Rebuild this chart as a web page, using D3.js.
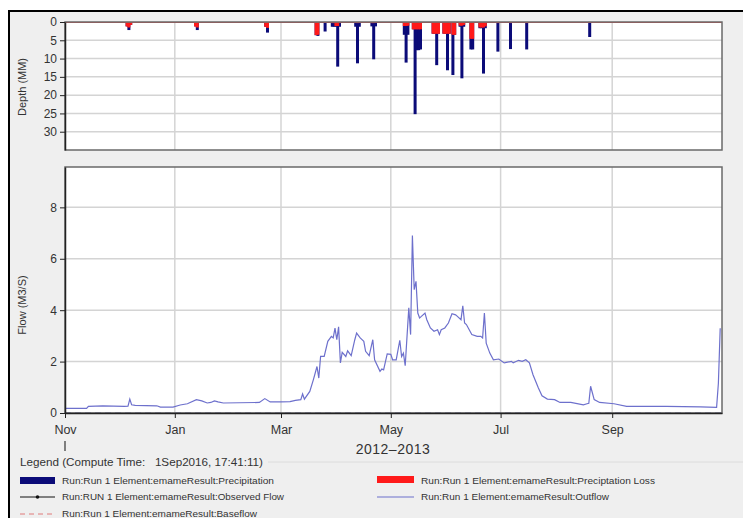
<!DOCTYPE html>
<html><head><meta charset="utf-8">
<script src="https://cdn.jsdelivr.net/npm/d3@7"></script>
<style>
body{margin:0;background:#fff}
svg{display:block}
text{font-family:"Liberation Sans",Arial,sans-serif;fill:#333}
</style>
</head><body>
<svg id="c" width="743" height="518"></svg>
<script>
// ---------- data ----------
const startDate = "2012-11-01";
const endDate = "2013-11-01";
const monthTicks = ["2012-11-01","2013-01-01","2013-03-01","2013-05-01","2013-07-01","2013-09-01"];
const monthLabels = ["Nov","Jan","Mar","May","Jul","Sep"];
const depthTicks = [0,5,10,15,20,25,30];
const flowTicks = [0,2,4,6,8];
// days since 1 Nov 2012
const precipDay   = [34,35,36,72,73,111,112,139,140,144,148,149,150,151,152,161,162,163,170,171,172,188,189,190,193,194,195,196,197,204,205,206,207,210,211,212,213,215,216,219,220,221,225,226,230,231,232,233,240,247,256,291];
const precipDepth = [1.2,2.2,0.8,1.2,2.2,1.3,2.9,3.6,3.8,2.6,1.3,1.3,1.3,12.2,1.3,1.3,11.3,1.3,1.2,10.2,1.2,3.5,11.1,3.5,2.0,25.2,7.7,7.7,7.5,3.2,3.2,11.8,3.2,3.2,3.2,13.2,3.2,14.5,3.5,1.3,15.4,1.3,7.5,7.5,1.7,1.7,14.1,1.7,8.1,7.4,7.5,4.1];
const lossDepth   = [1.2,1.5,0.8,1.2,1.5,1.3,1.6,3.6,3.5,0.2,0.3,0.3,1.1,1.1,0.3,0.2,0.3,0.2,0.3,0.3,0.2,1.1,1.1,1.0,2.0,2.0,2.0,2.0,2.0,3.2,3.2,3.2,3.2,3.2,3.2,3.2,3.2,3.5,3.5,1.0,1.0,0.8,4.6,4.6,1.5,1.5,1.5,1.2,0.3,0.3,0.3,0.2];
const outflowDay = [0,12,13,21,33,35,36,37,39,51,53,60,64,68,73,76,79,81,83,85,88,108,111,114,120,125,128,131,132,133,136,138,140,141,142,144,146,148,149,150,151,152,153,154,156,157,159,161,162,164,166,167,169,171,172,175,176,177,179,181,182,184,186,187,188,189,191,192,193,194,195,196,197,198,200,201,203,205,207,208,209,211,213,215,217,218,220,221,222,223,226,229,231,232,233,234,236,238,241,244,248,249,252,254,256,258,260,263,265,268,272,275,281,288,290,291,292,294,297,305,312,334,353,362,363,364];
const outflowValue = [0.18,0.18,0.26,0.28,0.26,0.27,0.54,0.32,0.30,0.28,0.23,0.23,0.31,0.36,0.52,0.47,0.39,0.41,0.47,0.43,0.39,0.41,0.56,0.43,0.43,0.44,0.49,0.52,0.74,0.54,0.84,1.30,1.81,1.36,2.20,2.20,2.79,2.98,2.92,3.30,2.85,3.35,1.95,2.36,2.20,2.42,2.23,2.85,3.11,2.92,2.79,2.40,2.23,2.85,2.07,1.62,1.71,1.68,2.30,2.28,2.07,2.07,2.83,2.20,2.33,1.84,4.09,3.05,6.90,4.80,5.12,3.89,3.70,3.76,3.89,3.63,3.31,3.18,3.24,3.05,3.24,3.31,3.50,3.86,3.82,3.76,3.63,4.17,3.50,3.44,3.05,2.98,2.98,2.92,3.89,2.72,2.33,2.07,2.10,1.95,2.01,1.95,2.05,2.01,2.07,1.95,1.49,0.97,0.67,0.54,0.52,0.41,0.41,0.32,0.36,0.38,1.04,0.52,0.41,0.36,0.26,0.26,0.24,0.22,1.17,3.30];
const yearLabel = "2012\u20132013";
const legendTitle = "Legend (Compute Time:   1Sep2016, 17:41:11)";
const legendNames = [
  "Run:Run 1 Element:emameResult:Precipitation",
  "Run:RUN 1 Element:emameResult:Observed Flow",
  "Run:Run 1 Element:emameResult:Baseflow",
  "Run:Run 1 Element:emameResult:Preciptation Loss",
  "Run:Run 1 Element:emameResult:Outflow"
];

// ---------- setup ----------
const parse = d3.timeParse("%Y-%m-%d");
const t0 = parse(startDate);
const dayDate = d => d3.timeDay.offset(t0, d);
const svg = d3.select("#c");
const L = 65, R = 722;
const x = d3.scaleTime().domain([t0, parse(endDate)]).range([L, R]);
const yD = d3.scaleLinear().domain([0, 35]).range([22, 150]);
const yF = d3.scaleLinear().domain([0, 9.57]).range([413, 167]);

// frame
svg.append("rect").attr("width",743).attr("height",518).attr("fill","#fff");
svg.append("rect").attr("x",9).attr("y",11).attr("width",745).attr("height",520)
  .attr("fill","#efefef").attr("stroke","#000").attr("stroke-width",2);

// panels backgrounds
svg.append("rect").attr("x",L).attr("y",22).attr("width",R-L).attr("height",128).attr("fill","#fff");
svg.append("rect").attr("x",L).attr("y",167).attr("width",R-L).attr("height",246).attr("fill","#fff");

const gridCol = "#d4d4d4";
const tickDates = monthTicks.map(parse);
// vertical grids
[[22,150],[167,413]].forEach(([a,b]) => {
  svg.append("g").selectAll("line").data(tickDates.slice(1)).join("line")
    .attr("x1",d=>x(d)).attr("x2",d=>x(d)).attr("y1",a).attr("y2",b)
    .attr("stroke",gridCol).attr("stroke-width",1.5);
});
// horizontal grids
svg.append("g").selectAll("line").data(depthTicks.slice(1)).join("line")
  .attr("x1",L).attr("x2",R).attr("y1",d=>yD(d)).attr("y2",d=>yD(d))
  .attr("stroke",gridCol).attr("stroke-width",1.5);
svg.append("g").selectAll("line").data(flowTicks.slice(1)).join("line")
  .attr("x1",L).attr("x2",R).attr("y1",d=>yF(d)).attr("y2",d=>yF(d))
  .attr("stroke",gridCol).attr("stroke-width",1.5);

// ---------- precipitation bars ----------
const bars = precipDay.map((d,i)=>({d, p:precipDepth[i], l:lossDepth[i]}));
const bx = d => x(dayDate(d.d)) - 0.6;
const bw = d => x(dayDate(d.d+1)) - x(dayDate(d.d)) + 1.2;
svg.append("g").selectAll("rect").data(bars).join("rect")
  .attr("x",bx).attr("width",bw).attr("y",yD(0)).attr("height",d=>yD(d.p)-yD(0))
  .attr("fill","#0b0b78");
svg.append("g").selectAll("rect").data(bars).join("rect")
  .attr("x",bx).attr("width",bw).attr("y",yD(0)).attr("height",d=>yD(d.l)-yD(0))
  .attr("fill","#ff1a1a");
svg.append("line").attr("x1",L).attr("x2",R).attr("y1",yD(0)+0.5).attr("y2",yD(0)+0.5)
  .attr("stroke","#e84040").attr("stroke-width",1);

// ---------- outflow ----------
const flow = outflowDay.map((d,i)=>({t:dayDate(d), v:outflowValue[i]}));
// baseflow dashed at zero
svg.append("line").attr("x1",L).attr("x2",R).attr("y1",yF(0)-0.5).attr("y2",yF(0)-0.5)
  .attr("stroke","#a9a3dd").attr("stroke-dasharray","6,4").attr("stroke-width",1);
svg.append("path").datum(flow)
  .attr("d", d3.line().x(d=>x(d.t)).y(d=>yF(d.v)))
  .attr("fill","none").attr("stroke","#6d70cc").attr("stroke-width",1.2);

// panel borders
[[22,150],[167,413]].forEach(([a,b]) => {
  svg.append("rect").attr("x",L).attr("y",a).attr("width",R-L).attr("height",b-a)
    .attr("fill","none").attr("stroke","#6a6a6a").attr("stroke-width",1.5);
});

// ---------- axes ----------
function styleAxis(g){
  g.select(".domain").attr("stroke","#222").attr("stroke-width",1.5);
  g.selectAll(".tick line").attr("stroke","#222");
  g.selectAll(".tick text").attr("fill","#333").style("font-size","12px")
    .style("font-family",'"Liberation Sans",Arial,sans-serif');
}
svg.append("g").attr("transform",`translate(${L},0)`)
  .call(d3.axisLeft(yD).tickValues(depthTicks).tickSize(5).tickSizeOuter(0).tickPadding(3))
  .call(styleAxis);
svg.append("g").attr("transform",`translate(${L},0)`)
  .call(d3.axisLeft(yF).tickValues(flowTicks).tickSize(5).tickSizeOuter(0).tickPadding(3))
  .call(styleAxis);
const xa = svg.append("g").attr("transform",`translate(0,413)`)
  .call(d3.axisBottom(x).tickValues(tickDates).tickFormat((d,i)=>monthLabels[i]).tickSize(5).tickSizeOuter(0).tickPadding(7))
  .call(styleAxis);
xa.selectAll(".tick text").style("font-size","12.5px");
svg.append("line").attr("x1",L).attr("x2",L).attr("y1",441).attr("y2",451).attr("stroke","#333").attr("stroke-width",1.2);
svg.append("text").attr("x",393).attr("y",454).attr("text-anchor","middle")
  .style("font-size","14px").style("letter-spacing","0.5px").text(yearLabel);

// y titles
svg.append("text").attr("transform","translate(26,87) rotate(-90)").attr("text-anchor","middle")
  .style("font-size","11px").text("Depth (MM)");
svg.append("text").attr("transform","translate(26,305) rotate(-90)").attr("text-anchor","middle")
  .style("font-size","11px").text("Flow (M3/S)");

// ---------- legend ----------
svg.append("line").attr("x1",268).attr("x2",743).attr("y1",462).attr("y2",462).attr("stroke","#dcdcdc");
svg.append("text").attr("x",20).attr("y",466).style("font-size","11.5px").style("white-space","pre")
  .attr("textLength",243).attr("lengthAdjust","spacingAndGlyphs").text(legendTitle);
const lg = svg.append("g");
// precipitation
lg.append("rect").attr("x",20).attr("y",477).attr("width",35).attr("height",7).attr("fill","#0b0b78");
// observed
lg.append("line").attr("x1",20).attr("x2",55).attr("y1",497).attr("y2",497).attr("stroke","#111");
lg.append("circle").attr("cx",37.5).attr("cy",497).attr("r",1.8).attr("fill","#111");
// baseflow
lg.append("line").attr("x1",20).attr("x2",55).attr("y1",514).attr("y2",514).attr("stroke","#e07a7a").attr("stroke-dasharray","5,4");
// loss
lg.append("rect").attr("x",377).attr("y",476).attr("width",37).attr("height",7).attr("fill","#ff1a1a");
// outflow
lg.append("line").attr("x1",377).attr("x2",414).attr("y1",497).attr("y2",497).attr("stroke","#6d70cc").attr("stroke-width",1.2);
const lpos = [[62,484,212],[62,500,222],[62,517,195],[421,484,234],[421,500,188]];
lpos.forEach(([tx,ty,tl],i)=>{
  lg.append("text").attr("x",tx).attr("y",ty).style("font-size","9px")
    .attr("textLength",tl).attr("lengthAdjust","spacingAndGlyphs").text(legendNames[i]);
});
</script>
</body></html>
